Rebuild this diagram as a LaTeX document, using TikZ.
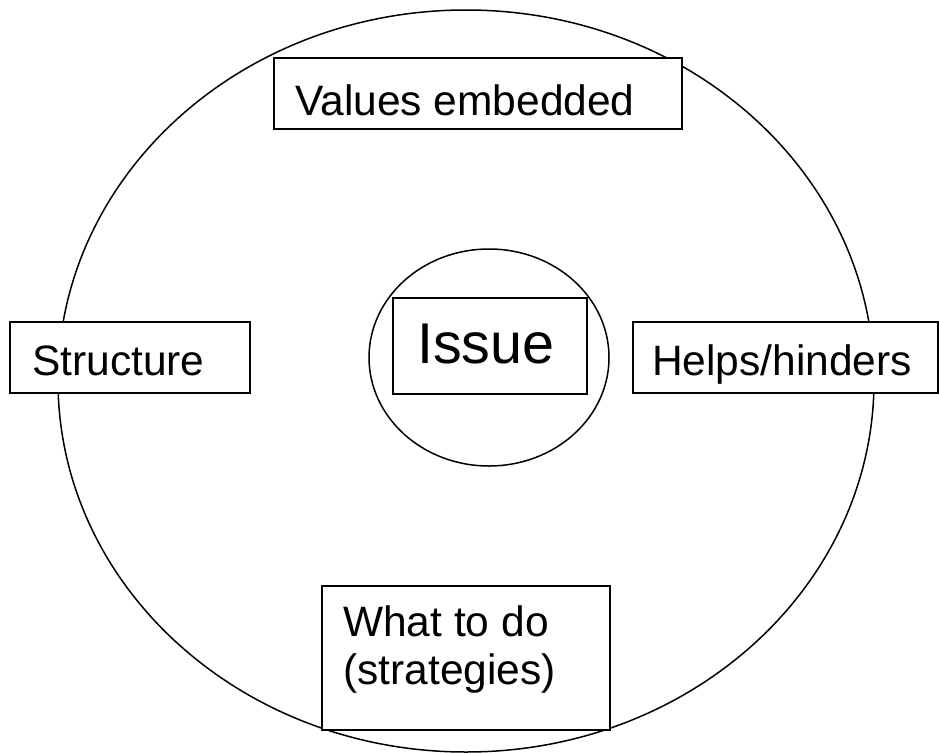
\documentclass[tikz,border=0pt]{standalone}
\usepackage{fontspec}
\setmainfont{Liberation Sans}
\usetikzlibrary{shapes.geometric}
\begin{document}
\begin{tikzpicture}[x=1pt,y=-1pt,
  ring/.style={draw,ellipse,line width=1.5pt,inner sep=0pt},
  tbox/.style={draw,fill=white,line width=2.2pt,inner sep=0pt,rectangle},
  lbl/.style={anchor=base west,inner sep=0pt,font=\fontsize{42.5}{48}\selectfont}
]
\useasboundingbox (0,0) rectangle (939,752);
\node[ring,minimum width=816pt,minimum height=742pt] (outer) at (466,381) {};
\node[ring,minimum width=240pt,minimum height=217pt] (inner) at (489,357.5) {};
% boxes
\node[tbox,minimum width=408pt,minimum height=71pt] (valbox) at (478,93.5) {};
\node[tbox,minimum width=240pt,minimum height=71pt] (strbox) at (130,357.5) {};
\node[tbox,minimum width=305pt,minimum height=71pt] (helpbox) at (785.5,357.5) {};
\node[tbox,minimum width=194pt,minimum height=96pt] (issbox) at (490,346) {};
\node[tbox,minimum width=288pt,minimum height=144pt] (whatbox) at (466,658) {};
% texts
\node[lbl] (valtxt) at (295,115) {Values embedded};
\node[lbl] (strtxt) at (32,375) {Structure};
\node[lbl] (helptxt) at (652,375) {Helps/hinders};
\node[lbl,font=\fontsize{57.5}{60}\selectfont] (isstxt) at (417,363) {Issue};
\node[lbl] (whattxt1) at (343,636) {What to do};
\node[lbl] (whattxt2) at (343,684) {(strategies)};
\end{tikzpicture}
\end{document}
